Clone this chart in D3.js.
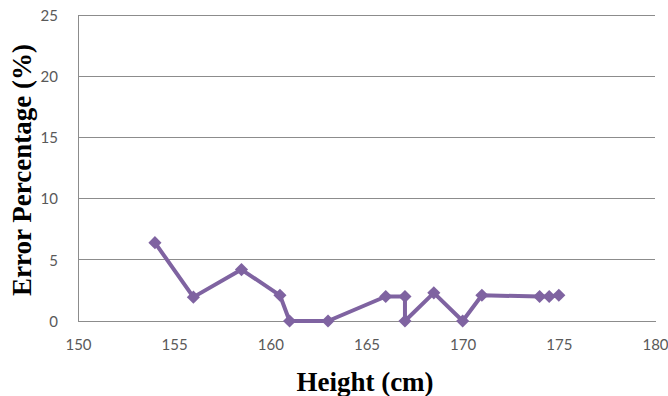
<!DOCTYPE html>
<html><head><meta charset="utf-8">
<script src="https://cdn.jsdelivr.net/npm/d3@7"></script>
<style>body{margin:0;background:#fff;}</style>
</head><body>
<svg id="c" width="668" height="396"></svg>
<script>
const heights = [154, 156, 158.5, 160.5, 161, 163, 166, 167, 167, 168.5, 170, 171, 174, 174.5, 175];
const errors  = [6.4, 1.95, 4.2, 2.1, 0, 0, 2.0, 2.0, 0, 2.3, 0, 2.1, 2.0, 2.0, 2.1];
const xTicks = [150, 155, 160, 165, 170, 175, 180];
const yTicks = [0, 5, 10, 15, 20, 25];
const xTitle = "Height (cm)";
const yTitle = "Error Percentage (%)";

const svg = d3.select("#c");
const L = 78, R = 655, T = 15, B = 321;
const x = d3.scaleLinear().domain([150, 180]).range([L, R]);
const y = d3.scaleLinear().domain([0, 25]).range([B, T]);

svg.append("g").selectAll("line").data(yTicks.filter(d => d > 0)).join("line")
  .attr("x1", L).attr("x2", R).attr("y1", d => y(d)).attr("y2", d => y(d))
  .attr("stroke", "#8c8c8c").attr("stroke-width", 1).attr("shape-rendering", "crispEdges");

const xa = svg.append("g").attr("transform", `translate(0,${B})`)
  .call(d3.axisBottom(x).tickValues(xTicks).tickSize(0).tickPadding(18));
const ya = svg.append("g").attr("transform", `translate(${L},0)`)
  .call(d3.axisLeft(y).tickValues(yTicks).tickSize(0).tickPadding(20));
[xa, ya].forEach(a => {
  a.select(".domain").attr("stroke", "#8c8c8c").attr("shape-rendering", "crispEdges");
  a.selectAll("text").attr("font-family", "Lato, 'Open Sans', sans-serif")
    .attr("font-size", 15).attr("fill", "#595959");
});
xa.selectAll("text").attr("dy", "0.71em");
ya.selectAll("text").attr("dy", "0.35em");

const pts = heights.map((h, i) => [h, errors[i]]);
svg.append("path").datum(pts)
  .attr("d", d3.line().x(d => x(d[0])).y(d => y(d[1])))
  .attr("fill", "none").attr("stroke", "#7f63a1").attr("stroke-width", 4)
  .attr("stroke-linejoin", "round");

svg.append("g").selectAll("path").data(pts).join("path")
  .attr("transform", d => `translate(${x(d[0])},${y(d[1])})`)
  .attr("d", d3.symbol(d3.symbolDiamond2, 110)())
  .attr("fill", "#7f63a1");

svg.append("text").attr("x", 365).attr("y", 391).attr("text-anchor", "middle")
  .attr("font-family", "'Liberation Serif', 'Times New Roman', serif")
  .attr("font-weight", "bold").attr("font-size", 27).attr("fill", "#000").text(xTitle);
svg.append("text").attr("transform", "translate(31,170) rotate(-90)").attr("text-anchor", "middle")
  .attr("font-family", "'Liberation Serif', 'Times New Roman', serif")
  .attr("font-weight", "bold").attr("font-size", 27).attr("fill", "#000").text(yTitle);
</script>
</body></html>
